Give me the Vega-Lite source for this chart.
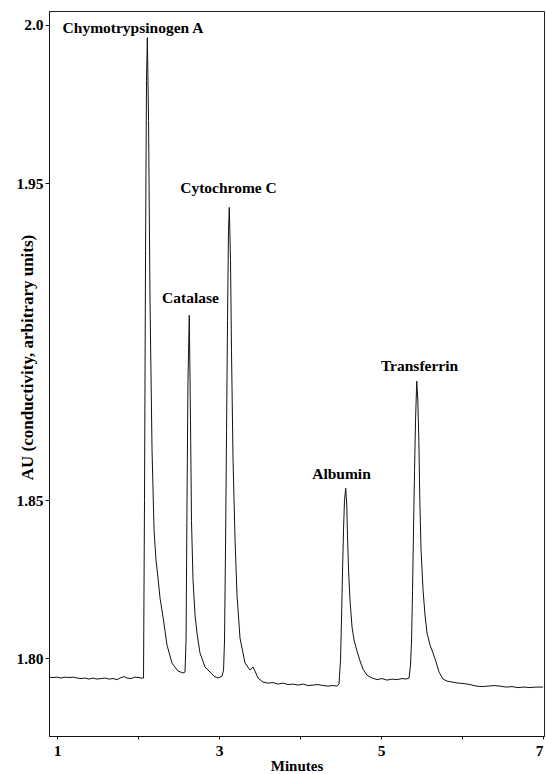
{
  "$schema": "https://vega.github.io/schema/vega-lite/v6.json",
  "width": 495,
  "height": 725,
  "autosize": {"type": "none"},
  "padding": {"left": 49, "top": 11, "right": 2, "bottom": 38},
  "background": "white",
  "config": {
    "view": {"stroke": "#222", "strokeWidth": 1},
    "font": "Liberation Serif",
    "axis": {"grid": false, "domainColor": "#111", "tickColor": "#111", "labelColor": "#000", "titleColor": "#000", "labelFont": "Liberation Serif", "titleFont": "Liberation Serif", "labelFontWeight": "bold", "titleFontWeight": "bold", "labelFontSize": 15.5, "titleFontSize": 15.5}
  },
  "datasets": {
    "trace": [
      {"min": 0.901, "au": 1.7941}, {"min": 0.951, "au": 1.79394}, {"min": 1.0, "au": 1.7941}, {"min": 1.049, "au": 1.79379},
      {"min": 1.099, "au": 1.7941}, {"min": 1.148, "au": 1.79394}, {"min": 1.198, "au": 1.7941}, {"min": 1.247, "au": 1.79379},
      {"min": 1.296, "au": 1.79363}, {"min": 1.346, "au": 1.79379}, {"min": 1.395, "au": 1.79347}, {"min": 1.444, "au": 1.79379},
      {"min": 1.494, "au": 1.79347}, {"min": 1.543, "au": 1.79363}, {"min": 1.593, "au": 1.79379}, {"min": 1.642, "au": 1.79347},
      {"min": 1.691, "au": 1.79363}, {"min": 1.741, "au": 1.79331}, {"min": 1.79, "au": 1.79394}, {"min": 1.827, "au": 1.79426},
      {"min": 1.864, "au": 1.79379}, {"min": 1.914, "au": 1.79363}, {"min": 1.963, "au": 1.7941}, {"min": 2.012, "au": 1.79394},
      {"min": 2.049, "au": 1.79379}, {"min": 2.068, "au": 1.79379},
      {"min": 2.08, "au": 1.8499}, {"min": 2.093, "au": 1.9288}, {"min": 2.105, "au": 1.9824}, {"min": 2.115, "au": 1.996},
      {"min": 2.13, "au": 1.9698}, {"min": 2.148, "au": 1.913}, {"min": 2.173, "au": 1.8657}, {"min": 2.198, "au": 1.8405},
      {"min": 2.222, "au": 1.831}, {"min": 2.247, "au": 1.8253}, {"min": 2.272, "au": 1.819}, {"min": 2.309, "au": 1.813},
      {"min": 2.358, "au": 1.8042}, {"min": 2.42, "au": 1.7985}, {"min": 2.494, "au": 1.796}, {"min": 2.556, "au": 1.7954},
      {"min": 2.58, "au": 1.7957},
      {"min": 2.593, "au": 1.8058}, {"min": 2.605, "au": 1.8499}, {"min": 2.617, "au": 1.8878}, {"min": 2.633, "au": 1.9083},
      {"min": 2.648, "au": 1.8752}, {"min": 2.66, "au": 1.8436}, {"min": 2.679, "au": 1.8247}, {"min": 2.704, "au": 1.8137},
      {"min": 2.728, "au": 1.808}, {"min": 2.765, "au": 1.8017}, {"min": 2.827, "au": 1.7973}, {"min": 2.889, "au": 1.7957},
      {"min": 2.938, "au": 1.7944}, {"min": 2.988, "au": 1.7938}, {"min": 3.037, "au": 1.7944}, {"min": 3.056, "au": 1.7963},
      {"min": 3.068, "au": 1.8058}, {"min": 3.08, "au": 1.8342}, {"min": 3.093, "au": 1.872}, {"min": 3.105, "au": 1.9067},
      {"min": 3.117, "au": 1.9351}, {"min": 3.127, "au": 1.9424}, {"min": 3.142, "au": 1.9257}, {"min": 3.154, "au": 1.8973},
      {"min": 3.173, "au": 1.8626}, {"min": 3.198, "au": 1.8373}, {"min": 3.222, "au": 1.82}, {"min": 3.259, "au": 1.8064},
      {"min": 3.321, "au": 1.79855}, {"min": 3.383, "au": 1.7963}, {"min": 3.42, "au": 1.7973}, {"min": 3.444, "au": 1.796},
      {"min": 3.481, "au": 1.7938}, {"min": 3.543, "au": 1.7925}, {"min": 3.605, "au": 1.7922}, {"min": 3.667, "au": 1.79237},
      {"min": 3.728, "au": 1.79189}, {"min": 3.79, "au": 1.7922}, {"min": 3.852, "au": 1.79174}, {"min": 3.914, "au": 1.79189},
      {"min": 3.975, "au": 1.79158}, {"min": 4.037, "au": 1.79189}, {"min": 4.099, "au": 1.79142}, {"min": 4.16, "au": 1.79158},
      {"min": 4.222, "au": 1.79174}, {"min": 4.284, "au": 1.79142}, {"min": 4.346, "au": 1.79126}, {"min": 4.407, "au": 1.79142},
      {"min": 4.457, "au": 1.79126}, {"min": 4.481, "au": 1.79189},
      {"min": 4.5, "au": 1.79946}, {"min": 4.512, "au": 1.8121}, {"min": 4.525, "au": 1.8279}, {"min": 4.537, "au": 1.8405},
      {"min": 4.549, "au": 1.8499}, {"min": 4.564, "au": 1.8537}, {"min": 4.577, "au": 1.8484}, {"min": 4.586, "au": 1.8389},
      {"min": 4.599, "au": 1.8279}, {"min": 4.617, "au": 1.8184}, {"min": 4.642, "au": 1.8099}, {"min": 4.667, "au": 1.8058},
      {"min": 4.704, "au": 1.8023}, {"min": 4.741, "au": 1.7992}, {"min": 4.778, "au": 1.7966}, {"min": 4.827, "au": 1.7947},
      {"min": 4.889, "au": 1.7938}, {"min": 4.951, "au": 1.79331}, {"min": 5.012, "au": 1.79363}, {"min": 5.074, "au": 1.79315},
      {"min": 5.136, "au": 1.79347}, {"min": 5.198, "au": 1.79331}, {"min": 5.259, "au": 1.79363}, {"min": 5.309, "au": 1.79347},
      {"min": 5.346, "au": 1.7938},
      {"min": 5.364, "au": 1.7979}, {"min": 5.377, "au": 1.8058}, {"min": 5.389, "au": 1.8215}, {"min": 5.401, "au": 1.8405},
      {"min": 5.414, "au": 1.8594}, {"min": 5.426, "au": 1.8752}, {"min": 5.441, "au": 1.8875}, {"min": 5.454, "au": 1.8815},
      {"min": 5.467, "au": 1.8689}, {"min": 5.479, "au": 1.8499}, {"min": 5.494, "au": 1.8342}, {"min": 5.519, "au": 1.8215},
      {"min": 5.543, "au": 1.8137}, {"min": 5.568, "au": 1.808}, {"min": 5.605, "au": 1.8042}, {"min": 5.642, "au": 1.8017},
      {"min": 5.679, "au": 1.7989}, {"min": 5.716, "au": 1.7957}, {"min": 5.765, "au": 1.79347}, {"min": 5.815, "au": 1.79284},
      {"min": 5.877, "au": 1.79252}, {"min": 5.951, "au": 1.79221}, {"min": 6.025, "au": 1.79205}, {"min": 6.099, "au": 1.79174},
      {"min": 6.173, "au": 1.79126}, {"min": 6.247, "au": 1.7911}, {"min": 6.321, "au": 1.79126}, {"min": 6.395, "au": 1.79142},
      {"min": 6.469, "au": 1.79126}, {"min": 6.543, "au": 1.79095}, {"min": 6.617, "au": 1.7911}, {"min": 6.691, "au": 1.79079},
      {"min": 6.765, "au": 1.79095}, {"min": 6.84, "au": 1.79079}, {"min": 6.914, "au": 1.79095}, {"min": 7.0, "au": 1.79095}
    ],
    "labels": [
      {"name": "Chymotrypsinogen A", "min": 1.938, "au": 1.9976},
      {"name": "Cytochrome C", "min": 3.117, "au": 1.9468},
      {"name": "Catalase", "min": 2.648, "au": 1.9122},
      {"name": "Albumin", "min": 4.512, "au": 1.8565},
      {"name": "Transferrin", "min": 5.475, "au": 1.8907}
    ]
  },
  "layer": [
    {
      "data": {"name": "trace"},
      "mark": {"type": "line", "color": "#111", "strokeWidth": 1, "clip": true},
      "encoding": {
        "x": {"field": "min", "type": "quantitative", "scale": {"domain": [0.901, 7.012], "nice": false, "zero": false},
          "axis": {"title": "Minutes", "titleFontSize": 15, "values": [1, 2, 3, 4, 5, 6, 7], "labelExpr": "datum.value % 2 == 1 ? format(datum.value, 'd') : ''", "tickSize": 3, "labelPadding": 4, "titlePadding": 0, "labelFlush": 3, "labelOverlap": false}},
        "y": {"field": "au", "type": "quantitative", "scale": {"domain": [1.7755, 2.0044], "nice": false, "zero": false},
          "axis": {"title": "AU (conductivity, arbitrary units)", "titleFontSize": 17, "values": [1.8, 1.85, 1.95, 2.0], "labelExpr": "datum.value == 2 ? '2.0' : format(datum.value, '.2f')", "tickSize": 4, "labelPadding": 2, "titleX": -17, "titleY": 346, "titleBaseline": "alphabetic", "titleAlign": "center", "labelOverlap": false}}
      }
    },
    {
      "data": {"name": "labels"},
      "mark": {"type": "text", "font": "Liberation Serif", "fontWeight": "bold", "fontSize": 15.5, "align": "center", "baseline": "alphabetic", "color": "#000"},
      "encoding": {
        "x": {"field": "min", "type": "quantitative"},
        "y": {"field": "au", "type": "quantitative"},
        "text": {"field": "name"}
      }
    }
  ]
}
